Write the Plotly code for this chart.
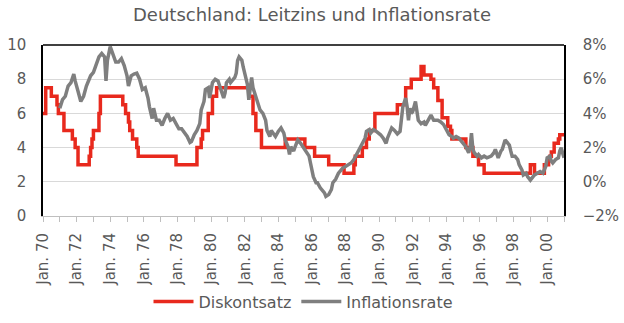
import plotly.graph_objects as go

# Diskontsatz (left axis, %) - change points, held until next change
rate_dates = [
    "1970-01", "1970-03", "1970-07", "1970-11", "1970-12", "1971-04", "1971-10", "1971-12",
    "1972-02", "1972-10", "1972-11", "1972-12", "1973-01", "1973-05", "1973-06", "1974-10",
    "1974-12", "1975-02", "1975-03", "1975-05", "1975-08", "1975-09", "1977-12", "1979-03",
    "1979-06", "1979-07", "1979-11", "1980-02", "1980-05", "1982-04", "1982-07", "1982-09",
    "1983-01", "1984-06", "1985-08", "1986-03", "1987-01", "1987-12", "1988-07", "1988-08",
    "1989-01", "1989-04", "1989-06", "1989-10", "1991-02", "1991-08", "1991-12", "1992-07",
    "1992-09", "1993-02", "1993-04", "1993-07", "1993-10", "1994-02", "1994-04", "1994-05",
    "1995-03", "1995-08", "1995-12", "1996-04", "1999-01", "1999-04", "1999-11", "2000-02",
    "2000-03", "2000-04", "2000-06", "2000-09", "2000-10", "2001-01",
]
rate_values = [
    6.0, 7.5, 7.0, 6.5, 6.0, 5.0, 4.5, 4.0,
    3.0, 3.5, 4.0, 4.5, 5.0, 6.0, 7.0, 6.5,
    6.0, 5.5, 5.0, 4.5, 4.0, 3.5, 3.0, 4.0,
    4.5, 5.0, 6.0, 7.0, 7.5, 7.0, 6.0, 5.0,
    4.0, 4.5, 4.0, 3.5, 3.0, 2.5, 3.0, 3.5,
    4.0, 4.5, 5.0, 6.0, 6.5, 7.5, 8.0, 8.75,
    8.25, 8.0, 7.5, 6.75, 5.75, 5.25, 5.0, 4.5,
    4.0, 3.5, 3.0, 2.5, 3.0, 2.5, 3.0, 3.25,
    3.5, 3.75, 4.25, 4.5, 4.75, 4.75,
]

# Inflationsrate (right axis, %)
infl_dates = [
    "1971-01", "1971-03", "1971-05", "1971-07", "1971-09", "1971-11", "1971-12",
    "1972-01", "1972-02", "1972-04", "1972-06", "1972-08", "1972-10", "1972-11",
    "1973-01", "1973-03", "1973-05", "1973-07", "1973-09", "1973-10", "1973-11",
    "1974-01", "1974-03", "1974-05", "1974-07", "1974-09", "1974-11",
    "1975-01", "1975-02", "1975-04", "1975-06", "1975-08", "1975-10", "1975-12",
    "1976-02", "1976-04", "1976-05", "1976-07", "1976-08", "1976-10", "1976-12",
    "1977-02", "1977-04", "1977-06", "1977-08", "1977-10", "1977-12",
    "1978-02", "1978-04", "1978-06", "1978-08", "1978-10", "1978-11",
    "1979-01", "1979-03", "1979-05", "1979-06", "1979-08", "1979-09", "1979-11", "1979-12",
    "1980-02", "1980-04", "1980-06", "1980-08", "1980-10", "1980-11", "1980-12",
    "1981-02", "1981-03", "1981-05", "1981-06", "1981-07", "1981-08", "1981-09", "1981-11", "1981-12",
    "1982-02", "1982-03", "1982-04", "1982-05", "1982-06", "1982-07", "1982-09", "1982-11", "1982-12",
    "1983-02", "1983-04", "1983-05", "1983-07", "1983-08", "1983-10", "1983-11",
    "1984-01", "1984-03", "1984-05", "1984-06", "1984-08", "1984-09", "1984-10", "1984-12",
    "1985-01", "1985-03", "1985-05", "1985-07", "1985-09", "1985-11", "1985-12",
    "1986-02", "1986-04", "1986-05", "1986-07", "1986-08", "1986-10", "1986-11",
    "1987-01", "1987-03", "1987-04", "1987-06", "1987-08", "1987-10", "1987-11",
    "1988-01", "1988-03", "1988-05", "1988-07", "1988-09", "1988-11",
    "1989-01", "1989-03", "1989-04", "1989-06", "1989-07", "1989-09", "1989-11",
    "1990-02", "1990-04", "1990-06", "1990-07", "1990-09", "1990-10", "1990-12",
    "1991-02", "1991-04", "1991-05", "1991-06", "1991-08", "1991-09", "1991-10", "1991-11", "1991-12",
    "1992-01", "1992-03", "1992-04", "1992-05", "1992-07", "1992-09", "1992-10", "1992-12",
    "1993-02", "1993-04", "1993-07", "1993-09", "1993-11",
    "1994-01", "1994-03", "1994-05", "1994-06", "1994-08", "1994-10", "1994-12",
    "1995-01", "1995-03", "1995-05", "1995-06", "1995-07", "1995-08", "1995-09", "1995-11", "1995-12",
    "1996-02", "1996-04", "1996-06", "1996-09", "1996-11", "1996-12",
    "1997-02", "1997-04", "1997-05", "1997-07", "1997-08", "1997-10", "1997-11", "1997-12",
    "1998-02", "1998-04", "1998-05", "1998-07", "1998-08", "1998-10", "1998-11",
    "1999-01", "1999-03", "1999-04", "1999-06", "1999-08", "1999-10", "1999-12",
    "2000-01", "2000-03", "2000-04", "2000-05", "2000-07", "2000-09", "2000-10", "2000-11", "2000-12",
    "2001-01",
]
infl_values = [
    4.3, 4.8, 5.0, 5.6, 5.8, 6.3, 5.9,
    5.5, 5.3, 4.7, 5.0, 5.6, 6.0, 6.2,
    6.4, 6.8, 7.3, 7.5, 7.3, 5.9, 7.1,
    7.9, 7.4, 7.0, 7.0, 7.2, 6.8,
    6.2, 5.6, 6.2, 6.3, 6.35, 6.0, 5.4,
    5.5, 4.9, 4.4, 3.7, 4.3, 3.6, 3.6,
    3.3, 3.7, 4.0, 3.6, 3.7, 3.4,
    3.1, 3.1, 2.85, 2.65, 2.3, 2.35,
    2.75, 3.0, 3.4, 4.2, 4.7, 5.4, 5.5, 4.9,
    5.8, 6.0, 5.9, 5.4, 4.9, 5.2, 5.8,
    6.0, 5.8, 6.0, 6.1, 6.35, 7.1, 7.3, 7.1, 6.7,
    6.0, 5.7, 4.8, 5.4, 6.1, 5.5, 5.0, 4.6, 4.2,
    4.0, 3.6, 3.0, 2.65, 3.0, 2.75, 2.65,
    2.95, 3.15, 2.85, 2.45, 2.05, 1.6, 2.05, 1.8,
    2.05, 2.45, 2.25, 2.0, 1.75, 1.5, 1.1,
    0.3, -0.05, -0.05, -0.35, -0.45, -0.65, -0.85,
    -0.75, -0.45, -0.05, 0.15, 0.5, 0.7, 0.8,
    0.9, 1.0, 1.1, 1.3, 1.6, 1.9,
    2.2, 2.55, 2.95, 3.05, 2.85, 3.05, 2.95,
    2.75, 2.55, 2.25, 2.55, 2.95, 3.15, 3.0,
    2.8, 2.95, 3.6, 4.4, 4.9, 4.4, 3.6, 4.3, 4.0,
    4.1, 4.7, 4.2, 3.6, 3.4, 3.5, 3.3, 3.6,
    3.9, 3.6, 3.6, 3.5, 3.35,
    3.05, 2.75, 2.65, 2.55, 2.65, 2.55, 2.35,
    2.25, 2.05, 1.7, 2.0, 2.85, 1.9, 1.7, 1.5, 1.6,
    1.4, 1.5, 1.4, 1.5, 1.7, 1.9,
    1.4, 1.8, 1.9, 2.45, 2.35, 2.15, 1.8, 1.5,
    1.5, 1.3, 1.0, 0.7, 0.4, 0.5, 0.3,
    0.1, 0.3, 0.4, 0.5, 0.6, 0.5, 0.9,
    1.4, 1.5, 1.2, 1.1, 1.3, 1.4, 1.8, 2.0, 1.7,
    1.4,
]

tick_dates = ["1970-01", "1972-01", "1974-01", "1976-01", "1978-01", "1980-01", "1982-01",
              "1984-01", "1986-01", "1988-01", "1990-01", "1992-01", "1994-01", "1996-01",
              "1998-01", "2000-01"]
tick_labels = ["Jan. 70", "Jan. 72", "Jan. 74", "Jan. 76", "Jan. 78", "Jan. 80", "Jan. 82",
               "Jan. 84", "Jan. 86", "Jan. 88", "Jan. 90", "Jan. 92", "Jan. 94", "Jan. 96",
               "Jan. 98", "Jan. 00"]

FONT = "DejaVu Sans"
TXT = "#595959"

fig = go.Figure()
fig.add_trace(go.Scatter(
    x=rate_dates, y=rate_values, name="Diskontsatz", mode="lines",
    line=dict(color="#E8291D", width=3.5, shape="hv"), yaxis="y",
))
fig.add_trace(go.Scatter(
    x=infl_dates, y=infl_values, name="Inflationsrate", mode="lines",
    line=dict(color="#7F7F7F", width=3.5), yaxis="y2",
))

fig.update_layout(
    width=624, height=323,
    margin=dict(l=43, r=60, t=45, b=107, autoexpand=False),
    paper_bgcolor="white", plot_bgcolor="white",
    font=dict(family=FONT, size=14, color=TXT),
    title=dict(text="Deutschland: Leitzins und Inflationsrate", x=0.5, xanchor="center",
               y=0.955, yanchor="middle", font=dict(family=FONT, size=18, color=TXT)),
    showlegend=True,
    legend=dict(orientation="h", x=0.5, xanchor="center", y=-0.5, yanchor="middle",
                font=dict(family=FONT, size=16, color=TXT), itemwidth=40),
    xaxis=dict(
        type="date", range=["1970-01-01", "2001-01-01"], automargin=False,
        tickmode="array", tickvals=tick_dates, ticktext=tick_labels,
        tickangle=-90, ticks="outside", ticklen=5, tickcolor="#BFBFBF",
        showline=True, linecolor="#BFBFBF", linewidth=1,
        showgrid=False, zeroline=False,
        ticklabelstandoff=5,
        tickfont=dict(family=FONT, size=15, color=TXT),
        minor=dict(dtick="M12", tick0="1970-01-01", ticks="outside", ticklen=5,
                   tickcolor="#BFBFBF", showgrid=False),
    ),
    yaxis=dict(
        range=[0, 10], dtick=2, tick0=0, automargin=False,
        showgrid=True, gridcolor="#D9D9D9", gridwidth=1,
        showline=True, linecolor="#000000", linewidth=1.5,
        zeroline=False, ticks="", ticklabelstandoff=12,
        tickfont=dict(family=FONT, size=15, color=TXT),
    ),
    yaxis2=dict(
        range=[-2, 8], dtick=2, tick0=-2, overlaying="y", side="right", automargin=False,
        ticksuffix="%", showgrid=False,
        showline=True, linecolor="#000000", linewidth=1.5,
        zeroline=False, ticks="", ticklabelstandoff=14,
        tickfont=dict(family=FONT, size=15, color=TXT),
    ),
    shapes=[dict(type="line", xref="paper", yref="paper", x0=0, x1=1, y0=1, y1=1,
                 line=dict(color="#000000", width=1.5))],
)

fig.write_html("out.html")
